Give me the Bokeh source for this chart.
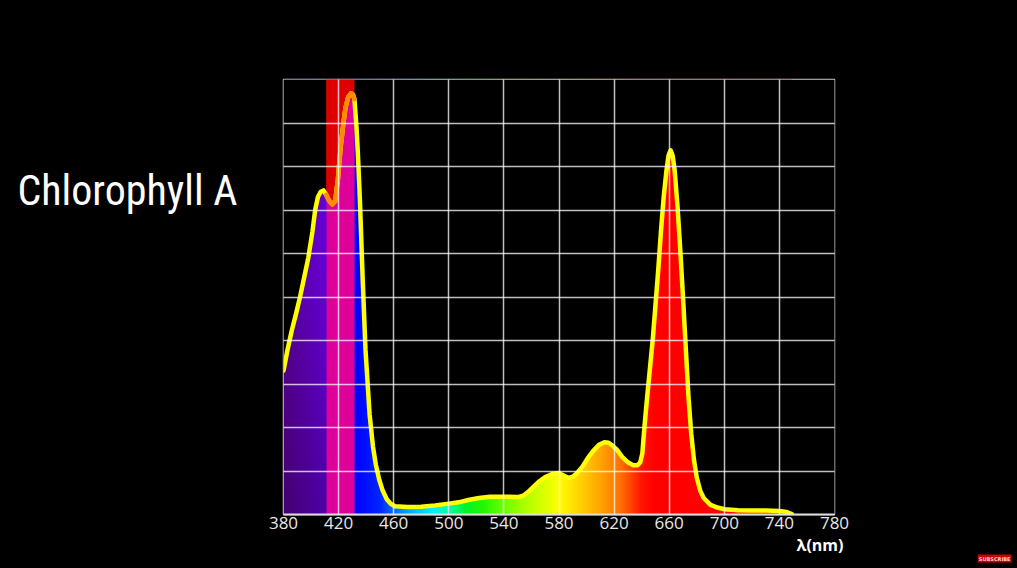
import numpy as np
from bokeh.plotting import figure
from bokeh.layouts import row
from bokeh.models import Range1d, FixedTicker, Title
from bokeh.core.properties import value
from bokeh.embed import file_html
from bokeh.resources import INLINE

# ---------------- data ----------------
wavelength = [380, 383, 386, 389, 392, 395, 398, 401, 403, 405, 407, 409, 411,
              413, 415.5, 417.5, 419.5, 421.5, 423.5, 425, 427, 429, 430.5, 431.5,
              433, 434, 435.5, 437.5, 439.5, 442.5, 445, 447, 449.5, 452, 455, 458,
              461, 470, 480, 490, 500, 507, 515, 522, 530, 540, 550, 554, 558, 562,
              566, 570, 575, 580, 583, 587, 590, 593, 597, 601, 605, 609, 613, 616,
              619, 622, 626, 630, 634, 637, 639, 640.5, 642, 644, 646, 648, 650, 652,
              654, 656, 658, 659.5, 661, 662.5, 664, 666, 668, 670, 672, 674, 676,
              678, 680, 682.5, 685, 690, 695, 700, 710, 720, 730, 740, 745, 749]
absorbance = [0.331, 0.38, 0.423, 0.46, 0.50, 0.545, 0.59, 0.65, 0.70, 0.73, 0.742, 0.745, 0.735,
              0.722, 0.713, 0.72, 0.77, 0.845, 0.90, 0.935, 0.96, 0.968, 0.965, 0.955,
              0.89, 0.83, 0.72, 0.54, 0.38, 0.23, 0.155, 0.115, 0.08, 0.055, 0.035, 0.024,
              0.019, 0.017, 0.018, 0.021, 0.025, 0.028, 0.034, 0.038, 0.041, 0.041, 0.040, 0.043, 0.053, 0.065,
              0.077, 0.086, 0.093, 0.095, 0.090, 0.084, 0.087, 0.095, 0.11, 0.13, 0.147, 0.16, 0.166, 0.165,
              0.158, 0.149, 0.132, 0.12, 0.113, 0.113, 0.12, 0.14, 0.20, 0.27, 0.335, 0.40, 0.48, 0.56,
              0.65, 0.73, 0.79, 0.825, 0.837, 0.825, 0.79, 0.71, 0.61, 0.50, 0.385, 0.27, 0.185,
              0.125, 0.085, 0.055, 0.038, 0.022, 0.016, 0.012, 0.010, 0.009, 0.009, 0.008, 0.006, 0.001]
x_ticks = [380, 420, 460, 500, 540, 580, 620, 660, 700, 740, 780]
y_grid = [0.0, 0.1, 0.2, 0.3, 0.4, 0.5, 0.6, 0.7, 0.8, 0.9, 1.0]
band_nm = [411, 431.5]
title_text = "Chlorophyll A"
axis_title = "λ(nm)"
badge_text = "SUBSCRIBE"

# ---------------- style: spectrum colours ----------------
stop_nm = [380, 410.9, 431.5, 450, 460, 475, 488, 500, 512, 525, 540, 560, 580, 595, 610, 625, 640, 650, 760]
stop_r = [88, 100, 0, 0, 0, 0, 0, 0, 0, 40, 110, 190, 255, 255, 255, 255, 255, 255, 255]
stop_g = [0, 0, 0, 40, 110, 190, 240, 255, 245, 245, 255, 255, 255, 210, 165, 110, 20, 0, 0]
stop_b = [145, 215, 255, 255, 255, 255, 255, 170, 40, 0, 0, 0, 0, 0, 0, 0, 0, 0, 0]

x0, x1 = wavelength[0], wavelength[-1]
cols, rows = 740, 200
cx = np.linspace(x0, x1, cols)
cy = np.linspace(0, 1, rows)
R = np.interp(cx, stop_nm, stop_r)
G = np.interp(cx, stop_nm, stop_g)
B = np.interp(cx, stop_nm, stop_b)
inband = (cx >= band_nm[0]) & (cx <= band_nm[1])
R[inband], G[inband], B[inband] = 221, 0, 153
shade = np.ones((rows, cols))
purple = cx < band_nm[0]
shade[:, purple] = (0.78 + 0.22 * np.clip(cy / 0.55, 0, 1))[:, None]
img = np.zeros((rows, cols), dtype=np.uint32)
view = img.view(dtype=np.uint8).reshape((rows, cols, 4))
view[:, :, 0] = np.clip(R[None, :] * shade, 0, 255).astype(np.uint8)
view[:, :, 1] = np.clip(G[None, :] * shade, 0, 255).astype(np.uint8)
view[:, :, 2] = np.clip(B[None, :] * shade, 0, 255).astype(np.uint8)
view[:, :, 3] = 255

H = 568
FRAME_TOP, FRAME_BOTTOM, FRAME_LEFT, FRAME_RIGHT = 79, 514, 283, 834
LEFT_W = 260
MAIN_W = 1016 - LEFT_W

# ---------------- left panel: title ----------------
left = figure(width=LEFT_W, height=H, output_backend="svg", toolbar_location=None,
              x_range=Range1d(0, LEFT_W), y_range=Range1d(FRAME_BOTTOM, FRAME_TOP),
              min_border_left=0, min_border_right=0, min_border_top=FRAME_TOP,
              min_border_bottom=H - FRAME_BOTTOM,
              background_fill_color="black", border_fill_color="black",
              outline_line_color=None)
left.axis.visible = False
left.grid.visible = False
left.text(x=[17], y=[190], text=[title_text], text_color="white",
          text_font=value("Roboto Condensed"), text_font_size="42px",
          text_align="left", text_baseline="alphabetic")

# ---------------- main chart ----------------
p = figure(width=MAIN_W, height=H, output_backend="svg", toolbar_location=None,
           x_range=Range1d(380, 780), y_range=Range1d(0, 1),
           min_border_left=FRAME_LEFT - LEFT_W, min_border_right=LEFT_W + MAIN_W - FRAME_RIGHT,
           min_border_top=FRAME_TOP, min_border_bottom=H - FRAME_BOTTOM,
           background_fill_color="black", border_fill_color="black")

p.image_rgba(image=[img], x=x0, y=0, dw=x1 - x0, dh=1.0)

mask_x = wavelength + [800, 800, x0]
mask_y = absorbance + [absorbance[-1], 1.0, 1.0]
p.patch(mask_x, mask_y, fill_color="black", line_color=None)

bi = [i for i, w in enumerate(wavelength) if band_nm[0] <= w <= band_nm[1]]
bx = [wavelength[i] for i in bi]
by = [absorbance[i] for i in bi]
p.patch(bx + [bx[-1], bx[0]], by + [1.0, 1.0], fill_color="#DD0000", line_color=None)

p.line(wavelength, absorbance, line_color="#FFFF00", line_width=4.5, line_join="round", line_cap="round")
p.line(bx, by, line_color="#FF8C00", line_width=4.5, line_join="round", line_cap="round")

p.yaxis.visible = False
p.xaxis.ticker = FixedTicker(ticks=x_ticks)
p.xaxis.axis_line_color = "#DDDDDD"
p.xaxis.axis_line_width = 2
p.xaxis.major_tick_line_color = None
p.xaxis.minor_tick_line_color = None
p.xaxis.major_tick_out = 0
p.xaxis.major_tick_in = 0
p.xaxis.minor_tick_out = 0
p.xaxis.major_label_text_color = "#E8E8E8"
p.xaxis.major_label_text_font = "Open Sans"
p.xaxis.major_label_text_font_size = "17px"
p.xaxis.major_label_standoff = 2
p.xgrid.ticker = FixedTicker(ticks=x_ticks)
p.ygrid.ticker = FixedTicker(ticks=y_grid)
for g in (p.xgrid, p.ygrid):
    g.grid_line_color = "white"
    g.grid_line_alpha = 0.75
    g.grid_line_width = 1.5
    g.level = "overlay"
p.outline_line_color = "#CCCCCC"
p.outline_line_width = 1.5

p.add_layout(Title(text=axis_title, align="right", offset=-9, standoff=0,
                   text_color="white", text_font="Open Sans", text_font_style="bold",
                   text_font_size="16px"), "below")
p.add_layout(Title(text=badge_text, align="right", offset=-(1011 - FRAME_RIGHT), standoff=-14,
                   text_color="#FFD0D0", text_font="DejaVu Sans", text_font_size="5px",
                   background_fill_color="#CC0000", padding=1), "below")

layout = row(left, p, spacing=0)
html = file_html(layout, INLINE)
html = html.replace("<head>", "<head><style>html,body{background:#000;overflow:hidden;}</style>", 1)
open("out.html", "w").write(html)
